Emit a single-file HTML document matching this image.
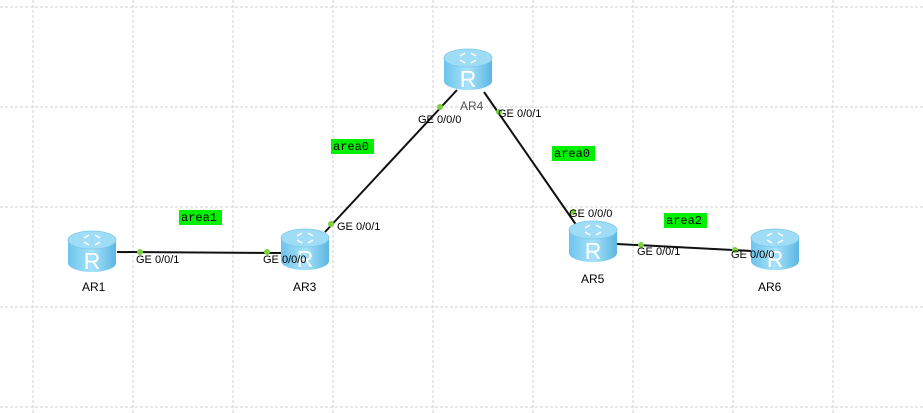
<!DOCTYPE html>
<html><head><meta charset="utf-8"><style>
body{margin:0;background:#fff}
svg{display:block}
text{font-family:"Liberation Sans",sans-serif}
text.m{font-family:"Liberation Mono",monospace}
</style></head><body>
<svg width="923" height="413" xmlns="http://www.w3.org/2000/svg">
<defs>
<linearGradient id="bd" x1="0" x2="1"><stop offset="0" stop-color="#6cc4ec"/><stop offset="0.5" stop-color="#a8e2fa"/><stop offset="1" stop-color="#5bb6e2"/></linearGradient>
<g id="r">
<path d="M-24,-12 L-24,11 A24,9 0 0 0 24,11 L24,-12 Z" fill="url(#bd)"/>
<ellipse cx="0" cy="-12" rx="24" ry="9" fill="#9fdcf6" stroke="#7cc8ec" stroke-width="0.8"/>
<path d="M-8,-14 l5,-3 M8,-10 l-5,3 M-8,-10 l5,3 M8,-14 l-5,-3" stroke="#fff" stroke-width="1.5"/>
<text x="0" y="17" font-size="23" fill="#fff" text-anchor="middle">R</text>
</g>
</defs>
<g stroke="#d0d0d0" stroke-dasharray="3,2" stroke-width="1">
<line x1="33" y1="0" x2="33" y2="413"/><line x1="133" y1="0" x2="133" y2="413"/><line x1="233" y1="0" x2="233" y2="413"/><line x1="333" y1="0" x2="333" y2="413"/><line x1="433" y1="0" x2="433" y2="413"/><line x1="533" y1="0" x2="533" y2="413"/><line x1="633" y1="0" x2="633" y2="413"/><line x1="733" y1="0" x2="733" y2="413"/><line x1="833" y1="0" x2="833" y2="413"/>
<line x1="0" y1="7" x2="923" y2="7"/><line x1="0" y1="107" x2="923" y2="107"/><line x1="0" y1="207" x2="923" y2="207"/><line x1="0" y1="307" x2="923" y2="307"/><line x1="0" y1="407" x2="923" y2="407"/>
</g>
<g stroke="#111" stroke-width="2">
<line x1="117" y1="252" x2="283" y2="253"/>
<line x1="325" y1="232" x2="457" y2="90"/>
<line x1="484" y1="92" x2="579" y2="229"/>
<line x1="617" y1="244" x2="752" y2="251"/>
</g>
<use href="#r" x="92" y="252"/>
<use href="#r" x="305" y="250"/>
<use href="#r" x="468" y="70"/>
<use href="#r" x="593" y="242"/>
<use href="#r" x="775" y="250"/>
<g fill="#7cd23c">
<circle cx="140" cy="252" r="3"/><circle cx="267" cy="252" r="3"/><circle cx="331" cy="224" r="3"/><circle cx="440" cy="107" r="3"/><circle cx="499" cy="112" r="3"/><circle cx="573" cy="212" r="3"/><circle cx="641" cy="245" r="3"/><circle cx="735" cy="250" r="3"/>
</g>
<g font-size="11" fill="#000">
<text x="136" y="263">GE 0/0/1</text><text x="263" y="263">GE 0/0/0</text>
<text x="337" y="230">GE 0/0/1</text><text x="418" y="123">GE 0/0/0</text>
<text x="498" y="117">GE 0/0/1</text><text x="569" y="217">GE 0/0/0</text>
<text x="637" y="255">GE 0/0/1</text><text x="731" y="258">GE 0/0/0</text>
<text x="82" y="291" font-size="12">AR1</text><text x="293" y="291" font-size="12">AR3</text>
<text x="460" y="110" font-size="12" fill="#555">AR4</text><text x="581" y="283" font-size="12">AR5</text>
<text x="758" y="291" font-size="12">AR6</text>
</g>
<g font-size="12">
<rect x="179" y="210" width="43" height="15" fill="#00f000"/><text class="m" x="181" y="221">area1</text>
<rect x="331" y="139" width="43" height="15" fill="#00f000"/><text class="m" x="333" y="150">area0</text>
<rect x="552" y="146" width="43" height="15" fill="#00f000"/><text class="m" x="554" y="157">area0</text>
<rect x="664" y="213" width="43" height="15" fill="#00f000"/><text class="m" x="666" y="224">area2</text>
</g>
</svg>
</body></html>
